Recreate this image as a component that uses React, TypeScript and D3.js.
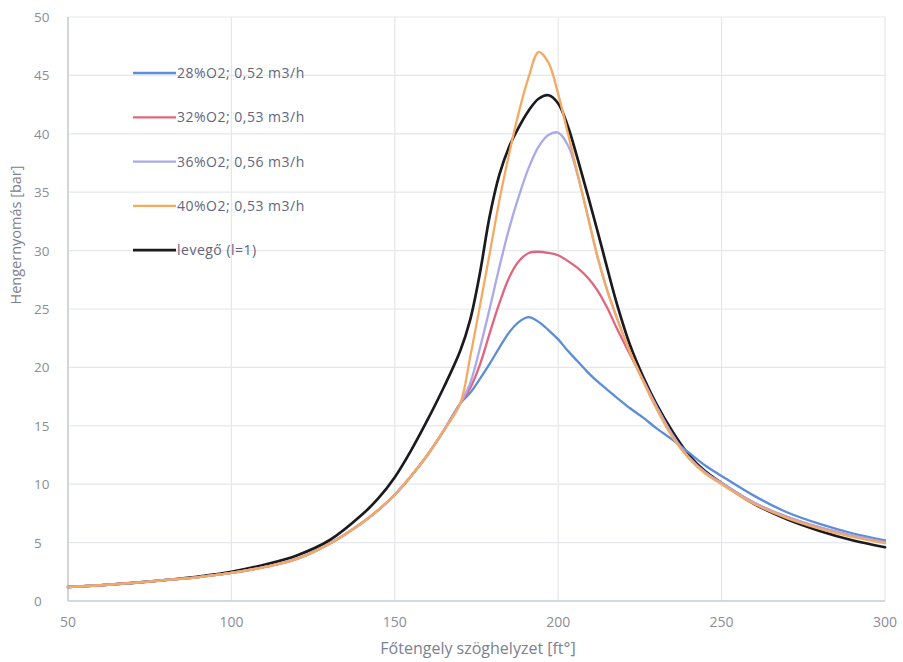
import React from "react";
import * as d3 from "d3";

const angles = [50, 60, 70, 80, 90, 100, 110, 120, 130, 140, 145, 150, 155, 160, 165, 170, 173, 176, 179, 182, 185, 188, 191, 194, 197, 200, 203, 206, 209, 212, 215, 218, 222, 226, 230, 235, 240, 245, 250, 260, 270, 280, 290, 300];

const o2_28 = [1.2, 1.35, 1.55, 1.8, 2.05, 2.4, 2.9, 3.6, 4.9, 6.7, 7.8, 9.1, 10.7, 12.5, 14.6, 16.9, 17.8, 19.0, 20.3, 21.7, 23.0, 23.9, 24.3, 23.9, 23.2, 22.4, 21.4, 20.5, 19.6, 18.8, 18.1, 17.4, 16.5, 15.7, 14.8, 13.8, 12.7, 11.6, 10.7, 9.0, 7.6, 6.6, 5.8, 5.2];
const o2_32 = [1.2, 1.35, 1.55, 1.8, 2.05, 2.4, 2.9, 3.6, 4.9, 6.7, 7.8, 9.1, 10.7, 12.5, 14.6, 16.9, 18.2, 20.2, 22.9, 25.5, 27.7, 29.1, 29.8, 29.9, 29.8, 29.6, 29.1, 28.5, 27.7, 26.6, 25.1, 23.3, 21.1, 18.9, 16.7, 14.2, 12.3, 11.0, 10.1, 8.4, 7.2, 6.3, 5.6, 5.05];
const o2_36 = [1.2, 1.35, 1.55, 1.8, 2.05, 2.4, 2.9, 3.6, 4.9, 6.7, 7.8, 9.1, 10.7, 12.5, 14.6, 16.9, 18.6, 21.6, 25.0, 28.6, 31.9, 34.7, 37.1, 38.9, 39.9, 40.1, 39.0, 36.4, 33.0, 29.5, 26.6, 24.2, 21.3, 18.9, 16.7, 14.2, 12.3, 11.0, 10.1, 8.4, 7.2, 6.3, 5.6, 5.05];
const o2_40 = [1.2, 1.35, 1.55, 1.8, 2.05, 2.4, 2.9, 3.6, 4.9, 6.7, 7.8, 9.1, 10.7, 12.5, 14.6, 16.9, 20.8, 25.2, 29.7, 34.3, 38.3, 41.9, 44.9, 47.0, 46.1, 43.4, 40.0, 36.5, 33.0, 29.5, 26.6, 24.2, 21.3, 18.8, 16.5, 14.0, 12.2, 10.9, 10.0, 8.3, 7.1, 6.2, 5.5, 4.95];
const air = [1.2, 1.35, 1.55, 1.8, 2.1, 2.5, 3.1, 3.9, 5.2, 7.4, 8.8, 10.6, 12.9, 15.5, 18.3, 21.4, 24.0, 28.0, 32.9, 36.5, 38.9, 40.6, 42.0, 43.0, 43.3, 42.6, 40.6, 37.8, 34.8, 31.7, 28.5, 25.4, 21.9, 19.2, 16.9, 14.5, 12.5, 11.1, 10.1, 8.3, 7.0, 6.0, 5.2, 4.6];

const seriesNames = ["28%O2; 0,52 m3/h", "32%O2; 0,53 m3/h", "36%O2; 0,56 m3/h", "40%O2; 0,53 m3/h", "levegő (l=1)"];
const seriesValues = [o2_28, o2_32, o2_36, o2_40, air];
const seriesColors = ["#5b8dd9", "#e0657f", "#aaa9ea", "#f5a961", "#1b1b1f"];
const seriesWidths = [2.3, 2.3, 2.3, 2.3, 2.7];

const xTicks = [50, 100, 150, 200, 250, 300];
const yTicks = [0, 5, 10, 15, 20, 25, 30, 35, 40, 45, 50];
const xTitle = "Főtengely szöghelyzet [ft°]";
const yTitle = "Hengernyomás [bar]";

const W = 903, H = 662;
const L = 68, R = 885, T = 17, B = 601;
const FONT = "'Open Sans', 'Liberation Sans', sans-serif";

export default function App() {
  const x = d3.scaleLinear().domain([50, 300]).range([L, R]);
  const y = d3.scaleLinear().domain([0, 50]).range([B, T]);
  const line = d3
    .line<number>()
    .x((_, i) => x(angles[i]))
    .y((v) => y(v))
    .curve(d3.curveCatmullRom.alpha(0.5));

  const order = [4, 0, 1, 2, 3];

  return (
    <svg
      width={W}
      height={H}
      style={{ position: "absolute", left: 0, top: 0, background: "#fff" }}
      fontFamily={FONT}
    >
      <rect x={0} y={0} width={W} height={H} fill="#fff" />
      {yTicks.map((t) => (
        <line key={"gy" + t} x1={L} x2={R} y1={y(t)} y2={y(t)} stroke="#e6e7ea" strokeWidth={1.2} />
      ))}
      {xTicks.map((t) => (
        <line key={"gx" + t} x1={x(t)} x2={x(t)} y1={T} y2={B} stroke="#e6e7ea" strokeWidth={1.2} />
      ))}
      <line x1={L} x2={L} y1={T} y2={B} stroke="#c9cbd0" strokeWidth={1.5} />
      <line x1={L} x2={R} y1={B} y2={B} stroke="#c7d2e0" strokeWidth={1.5} />

      {yTicks.map((t) => (
        <text key={"ty" + t} x={34} y={y(t) + 5} fontSize={13.5} fill="#8a8d99">
          {t}
        </text>
      ))}
      {xTicks.map((t) => (
        <text key={"tx" + t} x={x(t)} y={627} fontSize={14} fill="#8a8d99" textAnchor="middle">
          {t}
        </text>
      ))}
      <text x={478} y={654} fontSize={16} fill="#7c8190" textAnchor="middle">
        {xTitle}
      </text>
      <text
        transform={`translate(21,235) rotate(-90)`}
        fontSize={14.5}
        fill="#7c8190"
        textAnchor="middle"
      >
        {yTitle}
      </text>

      {order.map((i) => (
        <path
          key={"s" + i}
          d={line(seriesValues[i]) || ""}
          fill="none"
          stroke={seriesColors[i]}
          strokeWidth={seriesWidths[i]}
          strokeLinejoin="round"
          strokeLinecap="round"
        />
      ))}

      {seriesNames.map((n, i) => {
        const ly = 73 + i * 44.3;
        return (
          <g key={"lg" + i}>
            <line x1={133} x2={176} y1={ly} y2={ly} stroke={seriesColors[i]} strokeWidth={seriesWidths[i]} />
            <text x={177} y={ly + 5} fontSize={14} letterSpacing={0.5} fill="#62667d">
              {n}
            </text>
          </g>
        );
      })}
    </svg>
  );
}
